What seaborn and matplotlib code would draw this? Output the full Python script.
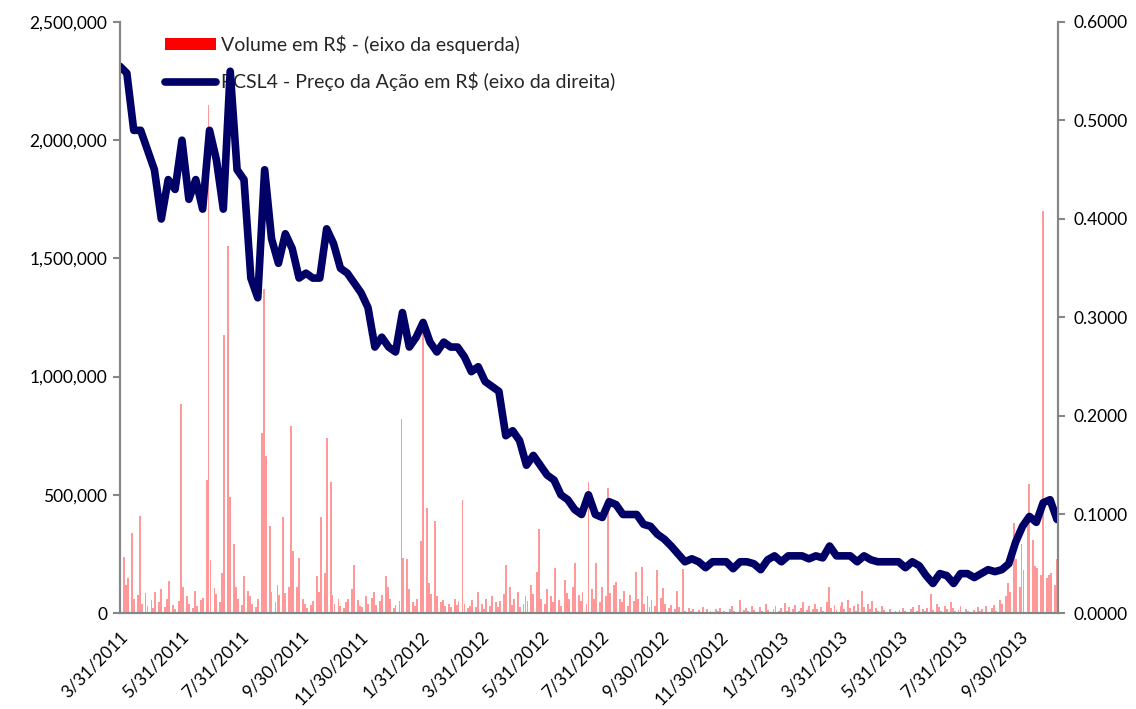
import pandas as pd
import numpy as np
import matplotlib
matplotlib.use("Agg")
import matplotlib.pyplot as plt
import seaborn as sns
from matplotlib.patches import Patch
from matplotlib.lines import Line2D

# ==========================================
# 0. dados
# ==========================================

# Preço da ação RCSL4 (R$), uma leitura por semana a partir de 31/03/2011
price = [
    0.555, 0.548, 0.490, 0.490, 0.470, 0.450, 0.400, 0.440, 0.430, 0.480,
    0.420, 0.440, 0.410, 0.490, 0.460, 0.410, 0.550, 0.450, 0.440, 0.340,
    0.320, 0.450, 0.380, 0.355, 0.385, 0.370, 0.340, 0.345, 0.340, 0.340,
    0.390, 0.375, 0.350, 0.345, 0.335, 0.325, 0.310, 0.270, 0.280, 0.270,
    0.265, 0.305, 0.270, 0.280, 0.295, 0.275, 0.265, 0.275, 0.270, 0.270,
    0.260, 0.245, 0.250, 0.235, 0.230, 0.225, 0.180, 0.185, 0.175, 0.150,
    0.160, 0.150, 0.140, 0.135, 0.120, 0.115, 0.105, 0.100, 0.120, 0.100,
    0.097, 0.113, 0.110, 0.100, 0.100, 0.100, 0.090, 0.088, 0.080, 0.075,
    0.068, 0.060, 0.052, 0.055, 0.052, 0.046, 0.052, 0.052, 0.052, 0.045,
    0.052, 0.052, 0.050, 0.044, 0.054, 0.058, 0.052, 0.058, 0.058, 0.058,
    0.055, 0.058, 0.056, 0.068, 0.058, 0.058, 0.058, 0.052, 0.058, 0.054,
    0.052, 0.052, 0.052, 0.052, 0.046, 0.052, 0.048, 0.038, 0.030, 0.040,
    0.038, 0.030, 0.040, 0.040, 0.036, 0.040, 0.044, 0.042, 0.044, 0.050,
    0.072, 0.088, 0.098, 0.092, 0.112, 0.115, 0.095, 0.100,
]

# Volume negociado (milhares de R$), uma leitura a cada 2 dias úteis
volume_k = [
    118, 238, 120, 150, 338, 60, 75, 410, 40, 85,
    30, 55, 20, 90, 45, 100, 25, 60, 135, 35,
    15, 50, 884, 110, 70, 40, 20, 95, 30, 55,
    65, 563, 2150, 225, 105, 80, 45, 170, 1176, 1552,
    492, 290, 110, 60, 35, 155, 95, 70, 40, 25,
    60, 763, 1370, 663, 368, 90, 45, 120, 75, 407,
    85, 110, 791, 264, 110, 232, 60, 40, 20, 35,
    50, 158, 90, 407, 170, 742, 553, 75, 40, 60,
    30, 20, 45, 60, 100, 205, 55, 30, 25, 70,
    40, 65, 90, 35, 50, 75, 155, 110, 60, 20,
    35, 50, 819, 233, 228, 100, 45, 30, 60, 304,
    1220, 444, 126, 80, 390, 70, 45, 55, 30, 40,
    25, 60, 35, 50, 478, 40, 20, 30, 55, 25,
    90, 40, 15, 60, 30, 70, 45, 25, 50, 80,
    205, 110, 35, 60, 90, 25, 40, 70, 50, 120,
    80, 175, 355, 60, 40, 100, 70, 45, 190, 55,
    30, 140, 85, 60, 110, 212, 75, 50, 90, 40,
    553, 100, 60, 212, 45, 110, 70, 530, 85, 120,
    130, 60, 45, 95, 30, 75, 50, 172, 60, 195,
    40, 70, 25, 55, 30, 182, 65, 105, 40, 20,
    35, 15, 95, 25, 185, 10, 20, 8, 15, 5,
    12, 25, 6, 18, 10, 4, 15, 8, 22, 10,
    5, 15, 28, 10, 6, 55, 12, 20, 8, 30,
    14, 6, 25, 10, 38, 12, 5, 18, 30, 8,
    20, 42, 10, 26, 15, 35, 8, 22, 45, 12,
    30, 18, 40, 15, 25, 10, 48, 112, 20, 35,
    12, 28, 45, 18, 55, 22, 30, 10, 40, 93,
    25, 38, 15, 50, 20, 8, 30, 12, 5, 18,
    6, 10, 4, 12, 20, 8, 3, 15, 25, 10,
    35, 18, 8, 22, 80, 12, 40, 25, 10, 30,
    15, 45, 20, 8, 12, 28, 5, 18, 10, 6,
    12, 25, 8, 15, 30, 6, 20, 35, 10, 55,
    40, 70, 127, 90, 380, 230, 110, 292, 180, 380,
    546, 310, 200, 190, 162, 1700, 150, 162, 170, 120,
    230,
]

left_ticks = [0, 500000, 1000000, 1500000, 2000000, 2500000]
right_ticks = [0.0, 0.1, 0.2, 0.3, 0.4, 0.5, 0.6]

label_volume = "Volume em R$ - (eixo da esquerda)"
label_price = "RCSL4 - Preço da Ação em R$ (eixo da direita)"

# ==========================================
# 1. estilo
# ==========================================
sns.set_theme(style="white")
plt.rcParams["font.family"] = ["Lato", "DejaVu Sans"]
plt.rcParams["font.size"] = 12
plt.rcParams["patch.force_edgecolor"] = False

NAVY = "#000066"
RED = "#ff0000"
GREY = "#868686"

price_dates = pd.date_range("2011-03-31", periods=len(price), freq="7D")
vol_dates = pd.bdate_range("2011-03-31", periods=len(volume_k), freq="2B")
df_price = pd.DataFrame({"data": price_dates, "preco": price})
df_vol = pd.DataFrame({"data": vol_dates, "volume": np.array(volume_k) * 1000})

# ==========================================
# 2. gráfico
# ==========================================
fig = plt.figure(figsize=(11.36, 7.09), dpi=100)
ax = fig.add_axes([0.1056, 0.1354, 0.8257, 0.8336])
ax2 = ax.twinx()

ax.bar(df_vol["data"], df_vol["volume"], width=1.9, color=RED,
       alpha=0.4, edgecolor="none", linewidth=0)

sns.lineplot(data=df_price, x="data", y="preco", ax=ax2, color=NAVY,
             linewidth=5.5, legend=False, solid_capstyle="round",
             solid_joinstyle="round")

ax.set_ylim(0, 2500000)
ax2.set_ylim(0, 0.6)
ax.set_xlim(pd.Timestamp("2011-03-31"), pd.Timestamp("2013-11-08"))

ax.set_yticks(left_ticks)
ax.set_yticklabels([f"{v:,.0f}" for v in left_ticks])
ax2.set_yticks(right_ticks)
ax2.set_yticklabels([f"{v:.4f}" for v in right_ticks])

x_ticks = pd.date_range("2011-03-31", "2013-09-30", freq="2ME")
ax.set_xticks(x_ticks)
ax.set_xticklabels([f"{d.month}/{d.day}/{d.year}" for d in x_ticks],
                   rotation=45, ha="right", rotation_mode="anchor")

ax.set_xlabel("")
ax.set_ylabel("")
ax2.set_xlabel("")
ax2.set_ylabel("")

for a in (ax, ax2):
    a.spines["top"].set_visible(False)
    for s in ("left", "right", "bottom"):
        a.spines[s].set_color(GREY)
        a.spines[s].set_linewidth(1.5)
    a.tick_params(colors=GREY, labelcolor="black", labelsize=12.5,
                  length=5, width=1.5, direction="out")
ax.tick_params(axis="y", pad=4)
ax2.tick_params(axis="y", pad=6)
ax.tick_params(axis="x", pad=6)

# legenda (fica atrás da linha, como no original)
handles = [
    Patch(facecolor=RED, edgecolor="none"),
    Line2D([0], [0], color=NAVY, linewidth=5.5, solid_capstyle="round"),
]
ax.legend(handles, [label_volume, label_price], loc="upper left",
          bbox_to_anchor=(0.048, 0.978), frameon=False, borderpad=0,
          borderaxespad=0, handlelength=2.6, handleheight=0.6,
          handletextpad=0.3, labelspacing=0.95, fontsize=14)

fig.savefig("out.png", dpi=100)
